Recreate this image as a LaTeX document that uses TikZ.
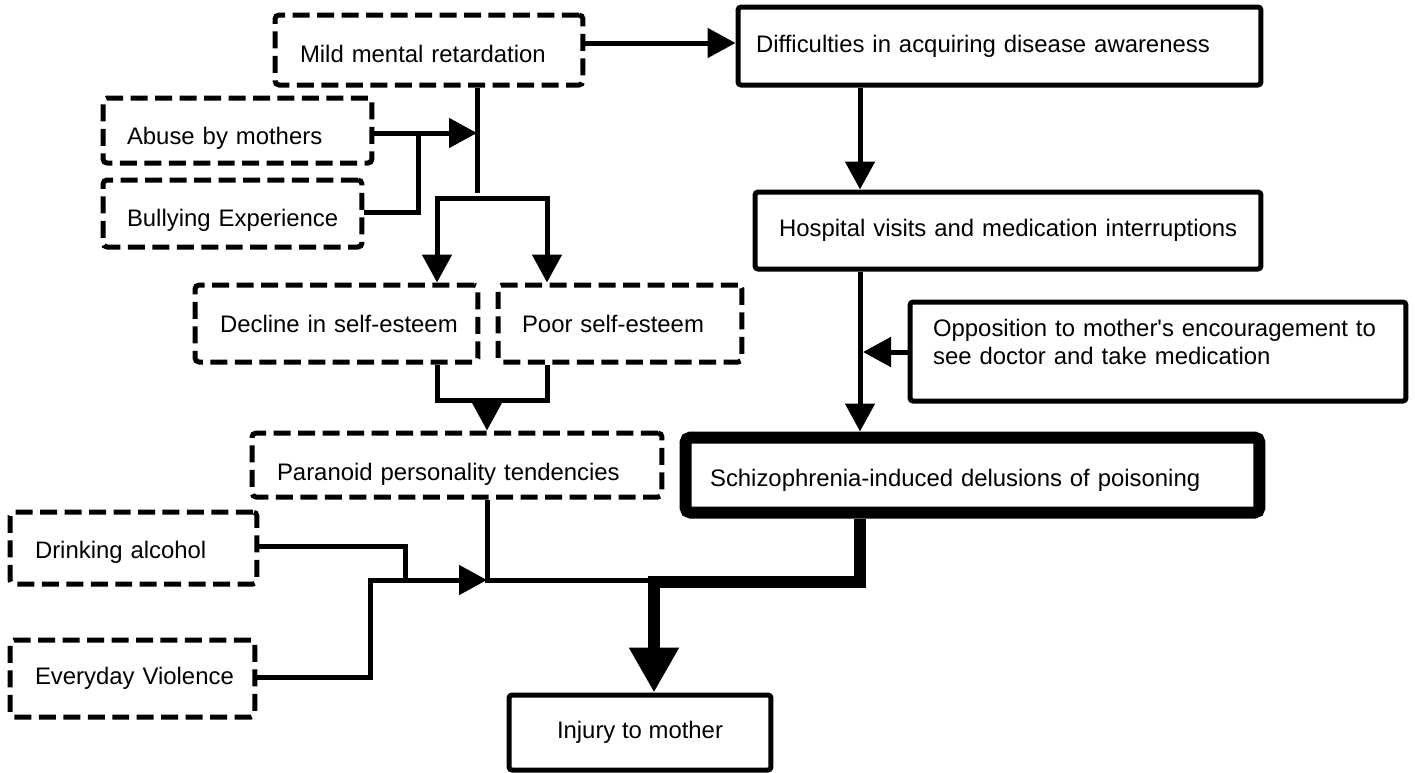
\documentclass[tikz,border=0pt]{standalone}
\usepackage{fontspec}
\setmainfont{Liberation Sans}
\usetikzlibrary{arrows.meta,calc}
\begin{document}
\begin{tikzpicture}[x=0.02cm,y=-0.02cm,
  every node/.style={font=\fontsize{13.6}{16}\selectfont, inner ysep=0pt},
  dbox/.style={draw, line width=0.1cm, dash pattern=on 0.34cm off 0.15cm, rounded corners=0.08cm, align=left},
  sbox/.style={draw, line width=0.1cm, rounded corners=0.06cm, align=left},
  low/.style={text height=#1, text depth=0.1cm},
  conn/.style={line width=0.1cm},
  arr/.style={conn, -{Triangle[length=0.56cm,width=0.58cm]}},
  darr/.style={conn, {Triangle[length=0.56cm,width=0.58cm]}-{Triangle[length=0.56cm,width=0.58cm]}},
  bigarr/.style={line width=0.25cm, -{Triangle[length=0.9cm,width=0.94cm]}}
]
\useasboundingbox (0,0) rectangle (1415,772);

% left (dashed) boxes
\node[dbox, low=0.6cm, minimum width=6.16cm, minimum height=1.4cm, inner xsep=0.5cm, text width=5.16cm] (mild) at (429,50) {\mbox{Mild mental retardation}};
\node[dbox, low=0.64cm, minimum width=5.38cm, minimum height=1.3cm, inner xsep=0.48cm, text width=4.42cm] (abuse) at (237.5,130.5) {\mbox{Abuse by mothers}};
\node[dbox, low=0.6cm, minimum width=5.18cm, minimum height=1.34cm, inner xsep=0.48cm, text width=4.22cm] (bully) at (232.5,213.5) {\mbox{Bullying Experience}};
\node[dbox, minimum width=5.66cm, minimum height=1.54cm, inner xsep=0.5cm, text width=4.66cm] (decline) at (336.5,323.5) {\mbox{Decline in self-esteem}};
\node[dbox, minimum width=4.88cm, minimum height=1.54cm, inner xsep=0.48cm, text width=3.92cm] (poor) at (620,323.5) {\mbox{Poor self-esteem}};
\node[dbox, low=0.72cm, minimum width=8.2cm, minimum height=1.28cm, inner xsep=0.5cm, text width=7.2cm] (paranoid) at (457,465) {\mbox{Paranoid personality tendencies}};
\node[dbox, low=0.52cm, minimum width=4.94cm, minimum height=1.44cm, inner xsep=0.5cm, text width=3.94cm] (drink) at (133.5,548) {\mbox{Drinking alcohol}};
\node[dbox, minimum width=4.9cm, minimum height=1.54cm, inner xsep=0.5cm, text width=3.9cm] (viol) at (132.5,678.5) {\mbox{Everyday Violence}};

% right (solid) boxes
\node[sbox, minimum width=10.46cm, minimum height=1.56cm, inner xsep=0.36cm, text width=9.74cm] (diff) at (999.5,46) {\mbox{Difficulties in acquiring disease awareness}};
\node[sbox, minimum width=10.12cm, minimum height=1.54cm, inner xsep=0.48cm, text width=9.16cm] (hosp) at (1008,230.5) {\mbox{Hospital visits and medication interruptions}};
\node[sbox, minimum width=9.92cm, minimum height=1.98cm, inner xsep=0.46cm, text width=9.0cm] (oppo) at (1158,351.5) {\raisebox{0pt}[\height][\dimexpr\depth+8pt\relax]{\begin{tabular}{@{}l@{}}Opposition to mother\textquotesingle s encouragement to\\see doctor and take medication\end{tabular}}};
\node[sbox, low=0.56cm, line width=0.24cm, rounded corners=0.1cm, minimum width=11.48cm, minimum height=1.5cm, inner xsep=0.49cm, text width=10.5cm] (schiz) at (972.5,475) {\mbox{Schizophrenia-induced delusions of poisoning}};
\node[sbox, align=center, minimum width=5.24cm, minimum height=1.5cm] (injury) at (640,732.5) {Injury to mother};

% junction coordinates
\coordinate (j1) at (477,193);
\coordinate (j2) at (477,133);
\coordinate (b1) at (418,212);
\coordinate (k1) at (437,198);
\coordinate (k2) at (547,198);
\coordinate (m1) at (437,400);
\coordinate (m2) at (547,400);
\coordinate (m3) at (487,400);
\coordinate (p1) at (487,580);
\coordinate (p2) at (654,580);
\coordinate (d1) at (405,546);
\coordinate (d2) at (405,580);
\coordinate (v1) at (370,677);
\coordinate (v2) at (370,580);
\coordinate (rx) at (860,0);
\coordinate (o1) at (863,352);
\coordinate (s1) at (860,582);
\coordinate (s2) at (654,582);

% left connectors
\draw[arr] (mild.east |- 0,43) -- (diff.west |- 0,43);
\draw[conn] (j1 |- mild.south) -- (j1);
\draw[arr] (abuse.east |- j2) -- (j2);
\draw[conn] (bully.east |- b1) -- (b1) -- (b1 |- j2);
\draw[darr] (k1 |- decline.north) -- (k1) -- (k2) -- (k2 |- poor.north);
\draw[conn] (m1 |- decline.south) -- (m1) -- (m2) -- (m2 |- poor.south);
\draw[arr] (m3) -- (m3 |- paranoid.north);
\draw[conn] (p1 |- paranoid.south) -- (p1) -- (p2);
\draw[conn] (drink.east |- d1) -- (d1) -- (d2);
\draw[arr] (viol.east |- v1) -- (v1) -- (v2) -- (p1);

% right connectors
\draw[arr] (rx |- diff.south) -- (rx |- hosp.north);
\draw[arr] (rx |- hosp.south) -- (rx |- schiz.north);
\draw[arr] (oppo.west |- o1) -- (o1);
\draw[bigarr] (rx |- schiz.south) -- (s1) -- (s2) -- (s2 |- injury.north);
\end{tikzpicture}
\end{document}
